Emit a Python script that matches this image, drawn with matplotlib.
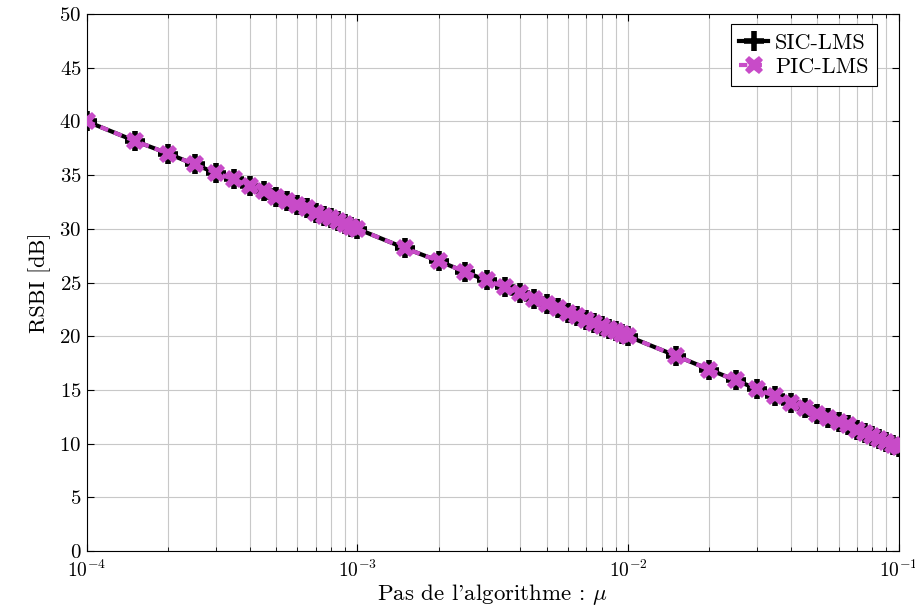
import matplotlib
matplotlib.use("Agg")
import matplotlib.pyplot as plt
from matplotlib.ticker import LogLocator, MultipleLocator, NullFormatter

plt.rcParams["font.family"] = "serif"
plt.rcParams["font.serif"] = ["cmr10", "DejaVu Serif"]
plt.rcParams["mathtext.fontset"] = "cm"
plt.rcParams["axes.formatter.use_mathtext"] = True
plt.rcParams["axes.unicode_minus"] = False

# step sizes (mu) and RSBI
mu = [1e-4, 1.5e-4, 2e-4, 2.5e-4, 3e-4, 3.5e-4, 4e-4, 4.5e-4, 5e-4, 5.5e-4,
      6e-4, 6.5e-4, 7e-4, 7.5e-4, 8e-4, 8.5e-4, 9e-4, 9.5e-4,
      1e-3, 1.5e-3, 2e-3, 2.5e-3, 3e-3, 3.5e-3, 4e-3, 4.5e-3, 5e-3, 5.5e-3,
      6e-3, 6.5e-3, 7e-3, 7.5e-3, 8e-3, 8.5e-3, 9e-3, 9.5e-3,
      1e-2, 1.5e-2, 2e-2, 2.5e-2, 3e-2, 3.5e-2, 4e-2, 4.5e-2, 5e-2, 5.5e-2,
      6e-2, 6.5e-2, 7e-2, 7.5e-2, 8e-2, 8.5e-2, 9e-2, 9.5e-2, 1e-1]

sic_lms = [40.0, 38.2, 37.0, 36.0, 35.2, 34.6, 34.0, 33.5, 33.0, 32.6,
           32.2, 31.9, 31.5, 31.2, 31.0, 30.7, 30.5, 30.2,
           30.0, 28.2, 27.0, 26.0, 25.2, 24.6, 24.0, 23.5, 23.0, 22.6,
           22.2, 21.9, 21.5, 21.2, 21.0, 20.7, 20.5, 20.2,
           20.0, 18.2, 16.9, 15.9, 15.1, 14.4, 13.8, 13.3, 12.8, 12.4,
           12.0, 11.7, 11.3, 11.0, 10.7, 10.4, 10.2, 9.9, 9.7]

pic_lms = [40.0, 38.2, 37.0, 36.0, 35.2, 34.6, 34.0, 33.5, 33.0, 32.6,
           32.2, 31.9, 31.5, 31.2, 31.0, 30.7, 30.5, 30.2,
           30.0, 28.2, 27.0, 26.0, 25.2, 24.6, 24.0, 23.5, 23.0, 22.6,
           22.2, 21.9, 21.5, 21.2, 21.0, 20.7, 20.5, 20.2,
           20.0, 18.2, 16.9, 15.9, 15.1, 14.4, 13.8, 13.3, 12.8, 12.4,
           12.0, 11.7, 11.3, 11.0, 10.7, 10.4, 10.2, 9.9, 9.7]

fig = plt.figure(figsize=(9.15, 6.11), dpi=100)
ax = fig.add_axes([0.095, 0.098, 0.887, 0.879])

ax.plot(mu, sic_lms, color="black", linewidth=3, marker="+", markersize=14,
        markeredgewidth=4, label="SIC-LMS", zorder=3)
ax.plot(mu, pic_lms, color="#c84bc8", linewidth=3, linestyle=(0, (2, 1.5)),
        marker="X", markersize=13, markeredgewidth=0, label="PIC-LMS", zorder=4)

ax.set_xscale("log")
ax.set_xlim(1e-4, 1e-1)
ax.set_ylim(0, 50)
ax.yaxis.set_major_locator(MultipleLocator(5))
ax.xaxis.set_major_locator(LogLocator(base=10))
ax.xaxis.set_minor_locator(LogLocator(base=10, subs=range(2, 10)))
ax.xaxis.set_minor_formatter(NullFormatter())

ax.grid(True, which="major", color="#c8c8c8", linewidth=0.8)
ax.grid(True, which="minor", axis="x", color="#c8c8c8", linewidth=0.8)
ax.set_axisbelow(True)

ax.tick_params(which="both", direction="in", top=True, right=True, labelsize=15)
ax.tick_params(axis="x", labelsize=14)
ax.tick_params(which="major", length=5)
ax.tick_params(which="minor", length=3)
ax.tick_params(axis="x", pad=6)
ax.tick_params(axis="y", pad=4)

ax.set_xlabel("Pas de l'algorithme : $\\mu$", fontsize=16.5, labelpad=1)
ax.set_ylabel("RSBI [dB]", fontsize=16, labelpad=6)

leg = ax.legend(loc="upper right", bbox_to_anchor=(0.974, 0.981), fontsize=16,
                fancybox=False, framealpha=1, edgecolor="black",
                handlelength=1.3, handletextpad=0.3, borderpad=0.4,
                labelspacing=0.2, borderaxespad=0)
leg.get_frame().set_linewidth(0.8)

fig.savefig("out.png", dpi=100)
